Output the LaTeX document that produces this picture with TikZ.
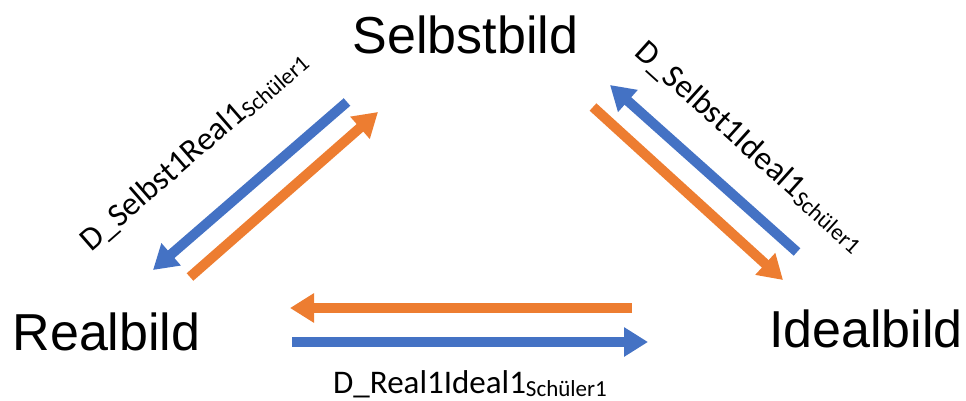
\documentclass[tikz,border=0pt]{standalone}
\usepackage{fontspec}
\setmainfont{Liberation Sans}
\newfontfamily\calfont{Carlito}
\usetikzlibrary{arrows.meta}
\definecolor{oblue}{HTML}{4472C4}
\definecolor{oorange}{HTML}{ED7D31}
\tikzset{
  bigtext/.style={font=\fontsize{52}{52}\selectfont, inner sep=0pt, anchor=base},
  dlabel/.style={font=\calfont\fontsize{33}{33}\selectfont, inner sep=0pt},
  barrow/.style={line width=10pt, -{Triangle[width=28pt,length=24pt]}},
}
\newcommand{\sublab}[1]{#1\raisebox{-3pt}{\fontsize{23}{23}\selectfont Schüler1}}
\begin{document}
\begin{tikzpicture}[x=1pt,y=-1pt]
\useasboundingbox (0,0) rectangle (966,401);
\node[bigtext] (selbst) at (465.5,54) {Selbstbild};
\node[bigtext] (real) at (106.5,350) {Realbild};
\node[bigtext] (ideal) at (866,347) {Idealbild};
% left pair
\coordinate (lbS) at (347,102);
\coordinate (lbE) at (153,270);
\coordinate (loS) at (190,277);
\coordinate (loE) at (378,112);
\draw[barrow, oblue] (lbS) -- (lbE);
\draw[barrow, oorange] (loS) -- (loE);
% right pair
\coordinate (roS) at (593,107);
\coordinate (roE) at (783,280);
\coordinate (rbS) at (797,252);
\coordinate (rbE) at (610,85);
\draw[barrow, oorange] (roS) -- (roE);
\draw[barrow, oblue] (rbS) -- (rbE);
% bottom pair
\coordinate (boS) at (632,308);
\coordinate (boE) at (290,308);
\coordinate (bbS) at (292,342);
\coordinate (bbE) at (648,342);
\draw[barrow, oorange] (boS) -- (boE);
\draw[barrow, oblue] (bbS) -- (bbE);
% labels
\node[dlabel, anchor=base west] (lbot) at (333,393) {\sublab{D\_Real1Ideal1}};
\node[dlabel, rotate=41] (lleft) at (194,151) {\sublab{D\_Selbst1Real1}};
\node[dlabel, rotate=-42] (lright) at (750,147) {\sublab{D\_Selbst1Ideal1}};
\end{tikzpicture}
\end{document}
